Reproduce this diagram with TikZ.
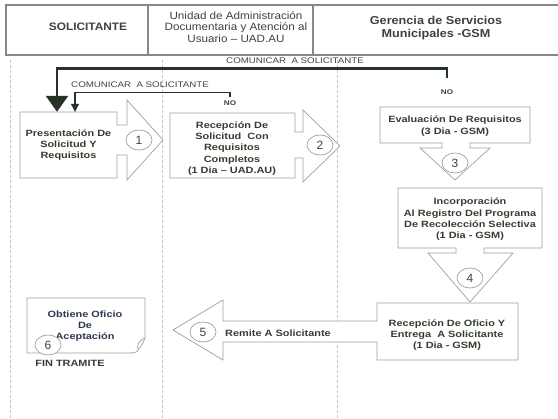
\documentclass[tikz,border=0pt]{standalone}
\usepackage{fontspec}
\setmainfont{Liberation Sans}
\newfontfamily\anchafont{Liberation Sans}[FakeStretch=1.2]
\newfontfamily\cabfont{Liberation Sans}[FakeStretch=1.1]
\usetikzlibrary{arrows.meta,shapes.geometric}

\definecolor{tinta}{RGB}{52,62,48}
\definecolor{tintaazul}{RGB}{45,55,80}
\definecolor{borde}{RGB}{160,160,160}
\definecolor{flecha}{RGB}{38,50,38}
\definecolor{cabecera}{RGB}{65,65,65}

\tikzset{
  paso/.style={draw=borde, line width=0.7pt, fill=white},
  texto/.style={align=center, text=tinta, inner sep=0pt, font=\anchafont\bfseries\fontsize{9.1}{11.3}\selectfont},
  cabtxt/.style={align=center, text=cabecera, inner sep=0pt, font=\cabfont\fontsize{10.6}{11.6}\selectfont},
  cab/.style={draw=borde!85!black, line width=1.1pt},
  carril/.style={draw=borde!60, line width=0.5pt, dash pattern=on 3pt off 2pt},
  numero/.style={ellipse, draw=borde, line width=0.7pt, fill=white, minimum width=26pt, minimum height=20pt, inner sep=0pt, text=cabecera, font=\fontsize{12}{12}\selectfont},
  aviso/.style={text=cabecera, inner sep=1pt, font=\anchafont\fontsize{8.1}{8.5}\selectfont},
  nolbl/.style={text=cabecera, inner sep=1pt, font=\anchafont\bfseries\fontsize{6.8}{7}\selectfont}
}

\begin{document}
\begin{tikzpicture}[x=1pt,y=-1pt]

%definitions

\def\w{2.5} %width thick line
\def\s{1.1} %width thin line

\useasboundingbox (0,0) rectangle (558,419);
\fill[white] (0,0) rectangle (558,419);

%
%HEADER
%

\draw[cab] (6,5) rectangle (564,55); %header frame
\draw[cab] (148,5) -- (148,55);
\draw[cab] (313,5) -- (313,55);

\node[cabtxt, font=\cabfont\bfseries\fontsize{10.8}{11.6}\selectfont] (hsol) at (88,27) {SOLICITANTE};
\node[cabtxt] (huad) at (236,27) {Unidad de Administración\\Documentaria y Atención al\\Usuario – UAD.AU};
\node[cabtxt, font=\cabfont\bfseries\fontsize{11.5}{12.4}\selectfont] (hgsm) at (436,28) {Gerencia de Servicios\\Municipales -GSM};

%lanes

\foreach \c in {10,162,337} \draw[carril] (\c,60) -- (\c,419);

%
%SHAPES
%

\draw[paso] (20,112) -- (117,112) -- (117,125) -- (127,125) -- (127,100) -- (163,140) -- (127,180) -- (127,155) -- (117,155) -- (117,178) -- (20,178) -- cycle; % step 1
\draw[paso] (170,113) -- (295,113) -- (295,132) -- (303,132) -- (303,110) -- (340,146) -- (303,182) -- (303,158) -- (295,158) -- (295,178) -- (170,178) -- cycle; % step 2
\draw[paso] (380,107) -- (530,107) -- (530,143) -- (470,143) -- (470,148) -- (490,148) -- (455,180) -- (420,148) -- (442,148) -- (442,143) -- (380,143) -- cycle; % step 3
\draw[paso] (398,188) -- (542,188) -- (542,248) -- (484,248) -- (484,253) -- (513,253) -- (470,302) -- (428,253) -- (456,253) -- (456,248) -- (398,248) -- cycle; % step 4
\draw[paso] (377,303) -- (518,303) -- (518,360) -- (377,360) -- (377,342) -- (223,342) -- (223,360) -- (173,330) -- (223,300) -- (223,321) -- (377,321) -- cycle; % step 5
\draw[paso] (27,298) -- (145,298) -- (145,338) .. controls (142,346) and (139,351) .. (131,353) -- (27,353) -- cycle; % document
\draw[paso] (145,338) .. controls (140,340) and (136,345) .. (138,349) .. controls (139,351) and (135,353) .. (131,353); % curl

%texts

\node[texto, minimum width=97pt, minimum height=66pt] (pres) at (68.5,145) {Presentación De\\Solicitud Y\\Requisitos};
\node[texto] (recep) at (232,148.5) {Recepción De\\Solicitud~ Con\\Requisitos\\Completos\\(1 Dia – UAD.AU)};
\node[texto] (eval) at (455,126) {Evaluación De Requisitos\\(3 Dia - GSM)};
\node[texto] (incorp) at (470,219.5) {Incorporación\\Al Registro Del Programa\\De Recolección Selectiva\\(1 Dia - GSM)};
\node[texto] (entrega) at (447,335) {Recepción De Oficio Y\\Entrega~ A Solicitante\\(1 Dia - GSM)};
\node[texto, text=tintaazul] (obtiene) at (85,326) {Obtiene Oficio\\De\\Aceptación};
\node[texto] (remite) at (278,333) {Remite A Solicitante};
\node[texto] (fin) at (70,363) {FIN TRAMITE};

%numbers

\node[numero] (n1) at (139,140) {1};
\node[numero] (n2) at (320,145) {2};
\node[numero] (n3) at (455,163) {3};
\node[numero] (n4) at (470,278) {4};
\node[numero] (n5) at (203,332) {5};
\node[numero] (n6) at (48,345) {6};

%
%RETURNS
%

\node[nolbl] (no3) at (447,92) {NO};
\node[nolbl] (no2) at (230,103) {NO};
\node[aviso] (com3) at (295,61) {COMUNICAR~ A SOLICITANTE};
\node[aviso] (com2) at (140,85) {COMUNICAR~ A SOLICITANTE};

\draw[flecha, line width=\w, -{Triangle[width=22pt,length=16pt]}] ([yshift=10pt]no3.north) -- ++(0,-10) -| ([xshift=-11.5pt]pres.north); % back to applicant
\draw[flecha, line width=\s, -{Triangle[width=8pt,length=8pt]}] ([yshift=2pt]no2.north) -- ++(0,-5) -| ([xshift=6.5pt]pres.north); % incomplete

\end{tikzpicture}
\end{document}
